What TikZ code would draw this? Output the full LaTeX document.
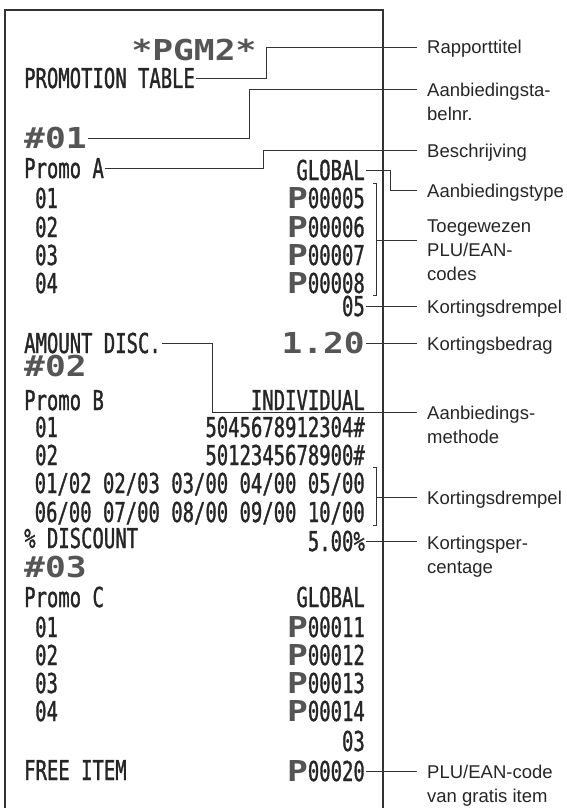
\documentclass[tikz,border=0pt]{standalone}
\usepackage{fontspec}
\setmainfont{Liberation Sans}
\newfontfamily\rcptface{DejaVu Sans Mono}[FakeStretch=0.69, FakeBold=1.2]
\newfontfamily\rcptbold{DejaVu Sans Mono Bold}[FakeStretch=1.2]
\definecolor{inkgray}{HTML}{262626}
\definecolor{printgray}{HTML}{555555}
\usetikzlibrary{calc}
\newcommand{\rcpt}{\rcptface\fontsize{27.4pt}{28pt}\selectfont}
\newcommand{\rcptbig}{\rcptbold\fontsize{28.8pt}{30pt}\selectfont}
\newcommand{\bigP}{{\rcptbig\color{printgray}P}}

\begin{document}
\begin{tikzpicture}[x=1pt, y=-1pt,
  rc/.style={font=\rcpt, text=inkgray, inner xsep=1pt, inner ysep=0pt, text height=20pt, text depth=0pt},
  rcbig/.style={rc, font=\rcptbig, text=printgray, text height=21pt},
  lbl/.style={font=\fontsize{18.5pt}{24pt}\selectfont, text=inkgray, align=left, inner xsep=10pt, inner ysep=0pt, anchor=base west},
  lead/.style={draw=black!80, line width=0.9pt},
  edge/.style={draw=black!80, line width=1.3pt}]
\useasboundingbox (0,0) rectangle (567,808);
\draw[edge] (5,808) -- (5,10) -- (383,10) -- (383,808);

\node[rcbig] (pgm) at (194,50) {*PGM2*};
\node[rc, anchor=west] (ptable) at (23,78) {PROMOTION TABLE};
\node[rcbig, anchor=west] (tab1) at (23,138) {\#01};
\node[rc, anchor=west] (promoA) at (23,168) {Promo A};
\node[rc, anchor=east] (typeA) at (366,170) {GLOBAL};
\foreach \n/\y/\code in {1/198/00005, 2/227/00006, 3/255/00007, 4/283/00008} {
  \node[rc, anchor=west] (a\n) at (34,\y) {0\n};
  \node[rc, anchor=east] (pa\n) at (366,\y) {\bigP\code};
}
\node[rc, anchor=east] (thrA) at (366,306) {05};
\node[rc, anchor=west] (amtdisc) at (23,343) {AMOUNT DISC.};
\node[rcbig, anchor=east] (amount) at (366,343) {1.20};
\node[rcbig, anchor=west] (tab2) at (23,366) {\#02};
\node[rc, anchor=west] (promoB) at (23,400) {Promo B};
\node[rc, anchor=east] (typeB) at (366,400) {INDIVIDUAL};
\node[rc, anchor=west] (b1) at (34,427) {01};
\node[rc, anchor=east] (ean1) at (366,427) {5045678912304\#};
\node[rc, anchor=west] (b2) at (34,455) {02};
\node[rc, anchor=east] (ean2) at (366,455) {5012345678900\#};
\node[rc, anchor=east] (thrB1) at (366,483) {01/02 02/03 03/00 04/00 05/00};
\node[rc, anchor=east] (thrB2) at (366,512) {06/00 07/00 08/00 09/00 10/00};
\node[rc, anchor=west] (pctdisc) at (23,538) {\% DISCOUNT};
\node[rc, anchor=east] (pct) at (366,541) {5.00\%};
\node[rcbig, anchor=west] (tab3) at (23,567) {\#03};
\node[rc, anchor=west] (promoC) at (23,597) {Promo C};
\node[rc, anchor=east] (typeC) at (366,597) {GLOBAL};
\foreach \n/\y/\code in {1/627/00011, 2/655/00012, 3/683/00013, 4/711/00014} {
  \node[rc, anchor=west] (c\n) at (34,\y) {0\n};
  \node[rc, anchor=east] (pc\n) at (366,\y) {\bigP\code};
}
\node[rc, anchor=east] (thrC) at (366,741) {03};
\node[rc, anchor=west] (freeitem) at (23,770) {FREE ITEM};
\node[rc, anchor=east] (freecode) at (366,771) {\bigP00020};

\node[lbl] (lrap) at (417,54) {Rapporttitel};
\node[lbl] (ltabnr) at (417,120) {Aanbiedingsta-\\belnr.};
\node[lbl] (lbeschr) at (417,157) {Beschrijving};
\node[lbl] (ltype) at (417,197) {Aanbiedingstype};
\node[lbl] (lcodes) at (417,280) {Toegewezen\\PLU/EAN-\\codes};
\node[lbl] (ldrem1) at (417,313) {Kortingsdrempel};
\node[lbl] (lbedrag) at (417,350) {Kortingsbedrag};
\node[lbl] (lmethode) at (417,443) {Aanbiedings-\\methode};
\node[lbl] (ldrem2) at (417,504) {Kortingsdrempel};
\node[lbl] (lperc) at (417,573) {Kortingsper-\\centage};
\node[lbl] (lfree) at (417,802) {PLU/EAN-code\\van gratis item};

\coordinate (k1) at (266,47);
\coordinate (k2) at (249,89);
\coordinate (k3) at (263,150);
\coordinate (k4) at (390,190);
\coordinate (k8) at (212,412);
\draw[lead] (ptable.east) -| (k1) -- (k1 -| lrap.west);
\draw[lead] (tab1.east) -| (k2) -- (k2 -| ltabnr.west);
\draw[lead] (promoA.east) -| (k3) -- (k3 -| lbeschr.west);
\draw[lead] (typeA.east) -| (k4) -- (k4 -| ltype.west);
\draw[lead] ([xshift=7pt,yshift=4pt]pa1.north east) -- ++(3,0) |- ([xshift=7pt,yshift=-2pt]pa4.south east);
\coordinate (m1) at ([xshift=10pt]$(pa1.north east)!0.5!(pa4.south east)$);
\draw[lead] (m1) -- (m1 -| lcodes.west);
\draw[lead] (thrA.east) -- (thrA.east -| ldrem1.west);
\draw[lead] (amount.east) -- (amount.east -| lbedrag.west);
\draw[lead] (amtdisc.east) -| (k8) -- (k8 -| lmethode.west);
\draw[lead] ([xshift=7pt,yshift=5pt]thrB1.north east) -- ++(3,0) |- ([xshift=7pt,yshift=-3pt]thrB2.south east);
\coordinate (m2) at ([xshift=10pt]$(thrB1.north east)!0.5!(thrB2.south east)$);
\draw[lead] (m2) -- (m2 -| ldrem2.west);
\draw[lead] (pct.east) -- (pct.east -| lperc.west);
\draw[lead] (freecode.east) -- (freecode.east -| lfree.west);
\end{tikzpicture}
\end{document}
